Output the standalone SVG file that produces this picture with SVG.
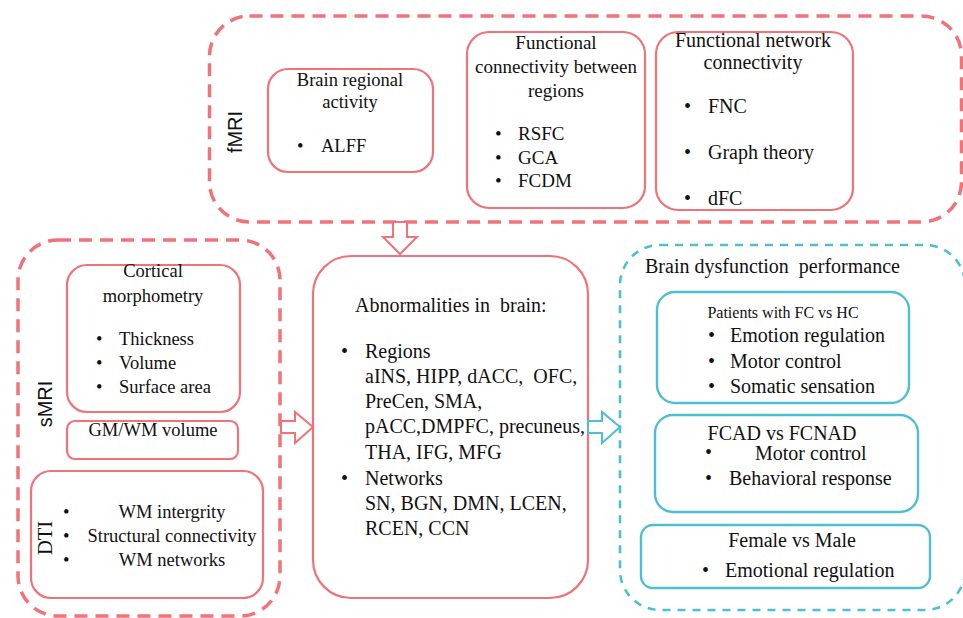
<svg xmlns="http://www.w3.org/2000/svg" width="963" height="618" viewBox="0 0 963 618">
<style>
.red{fill:none;stroke:#EF7378;stroke-width:2.2}
.redd{fill:none;stroke:#EF7378;stroke-width:3.5;stroke-dasharray:13 8}
.cyan{fill:none;stroke:#4DBFD0;stroke-width:2.4}
.cyand{fill:none;stroke:#4DBFD0;stroke-width:2.6;stroke-dasharray:8 7}
.arrR{fill:#fff;stroke:#EF7378;stroke-width:2}
.arrC{fill:#fff;stroke:#4DBFD0;stroke-width:2}
.c{text-anchor:middle}
.f185{font-size:18.5px}
.f19{font-size:19px}
.f20{font-size:20px}
.f16{font-size:16px}
</style>
<rect width="963" height="618" fill="#fff"/>
<g font-family="'Liberation Serif', 'Times New Roman', serif" fill="#111">

<g id="fmri">
<rect class="redd" x="209.5" y="16" width="752" height="206" rx="40"/>
<text font-family="'Liberation Sans', Arial, sans-serif" font-size="20" transform="translate(242,132) rotate(-90)" text-anchor="middle">fMRI</text>
</g>
<g id="brain-regional">
<rect class="red" x="268" y="69" width="165" height="103" rx="20"/>
<text class="c f185" x="350" y="86">Brain regional</text>
<text class="c f185" x="350" y="108">activity</text>
<text class="f185" x="297" y="152">•</text>
<text class="f185" x="321" y="152">ALFF</text>
</g>
<g id="func-conn">
<rect class="red" x="467" y="32" width="178" height="176" rx="22"/>
<text class="c f19" x="556" y="49">Functional</text>
<text class="c f19" x="556" y="73">connectivity between</text>
<text class="c f19" x="556" y="97">regions</text>
<text class="f19" x="495" y="140">•</text><text class="f19" x="518" y="140">RSFC</text>
<text class="f19" x="495" y="164">•</text><text class="f19" x="518" y="164">GCA</text>
<text class="f19" x="495" y="187">•</text><text class="f19" x="518" y="187">FCDM</text>
</g>
<g id="func-net">
<rect class="red" x="656" y="32" width="197" height="178" rx="22"/>
<text class="c f20" x="753" y="47">Functional network</text>
<text class="c f20" x="753" y="69">connectivity</text>
<text class="f20" x="684" y="113">•</text><text class="f20" x="708" y="113">FNC</text>
<text class="f20" x="684" y="159">•</text><text class="f20" x="708" y="159">Graph theory</text>
<text class="f20" x="684" y="205">•</text><text class="f20" x="708" y="205">dFC</text>
</g>

<g id="smri">
<rect class="redd" x="18" y="240" width="262" height="376" rx="40"/>
<text font-family="'Liberation Sans', Arial, sans-serif" font-size="20" transform="translate(52,404) rotate(-90)" text-anchor="middle">sMRI</text>
</g>
<g id="cortical">
<rect class="red" x="67" y="265" width="173" height="147" rx="20"/>
<text class="c f185" x="153" y="277">Cortical</text>
<text class="c f185" x="153" y="302">morphometry</text>
<text class="f185" x="96" y="345">•</text><text class="f185" x="119" y="345">Thickness</text>
<text class="f185" x="96" y="369">•</text><text class="f185" x="119" y="369">Volume</text>
<text class="f185" x="96" y="393">•</text><text class="f185" x="119" y="393">Surface area</text>
</g>
<g id="gmwm">
<rect class="red" x="67" y="421" width="171" height="38" rx="8"/>
<text class="c f185" x="153" y="436">GM/WM volume</text>
</g>
<g id="dti">
<rect class="red" x="31" y="471" width="232" height="127" rx="20"/>
<text font-size="20.5" transform="translate(52,538) rotate(-90)" text-anchor="middle">DTI</text>
<text class="f185" x="63" y="518">•</text><text class="c f185" x="172" y="518">WM intergrity</text>
<text class="f185" x="63" y="542">•</text><text class="c f185" x="172" y="542">Structural connectivity</text>
<text class="f185" x="63" y="566">•</text><text class="c f185" x="172" y="566">WM networks</text>
</g>

<g id="abnormalities">
<rect class="red" x="313" y="256" width="275" height="342" rx="38"/>
<text class="f20" x="355" y="312" xml:space="preserve">Abnormalities in  brain:</text>
<text class="f20" x="341" y="358">•</text><text class="f20" x="365" y="358">Regions</text>
<text class="f20" x="365" y="383" xml:space="preserve">aINS, HIPP, dACC,  OFC,</text>
<text class="f20" x="365" y="408">PreCen, SMA,</text>
<text class="f20" x="365" y="433">pACC,DMPFC, precuneus,</text>
<text class="f20" x="365" y="459">THA, IFG, MFG</text>
<text class="f20" x="341" y="485">•</text><text class="f20" x="365" y="485">Networks</text>
<text class="f20" x="365" y="510">SN, BGN, DMN, LCEN,</text>
<text class="f20" x="365" y="535">RCEN, CCN</text>
</g>

<g id="dysfunction">
<rect class="cyand" x="620" y="245" width="345" height="365" rx="40"/>
<text class="f20" x="645" y="273" xml:space="preserve">Brain dysfunction  performance</text>
</g>
<g id="patients">
<rect class="cyan" x="657" y="292" width="252" height="111" rx="18"/>
<text class="c f16" x="783" y="318">Patients with FC vs HC</text>
<text class="f20" x="708" y="342">•</text><text class="f20" x="730" y="342">Emotion regulation</text>
<text class="f20" x="708" y="368">•</text><text class="f20" x="730" y="368">Motor control</text>
<text class="f20" x="708" y="393">•</text><text class="f20" x="730" y="393">Somatic sensation</text>
</g>
<g id="fcad">
<rect class="cyan" x="655" y="415" width="263" height="97" rx="18"/>
<text class="c f20" x="782" y="440">FCAD vs FCNAD</text>
<text class="f20" x="705" y="459">•</text><text class="f20" x="755" y="460">Motor control</text>
<text class="f20" x="705" y="485">•</text><text class="f20" x="729" y="485">Behavioral response</text>
</g>
<g id="female">
<rect class="cyan" x="641" y="525" width="289" height="63" rx="12"/>
<text class="c f20" x="792" y="547">Female vs Male</text>
<text class="f20" x="702" y="577">•</text><text class="f20" x="725" y="577">Emotional regulation</text>
</g>
</g>

<g id="connectors">
<polygon class="arrR" points="393,222 407,222 407,237 417,237 400,254 383,237 393,237"/>
<polygon class="arrR" points="281,421 295,421 295,412 313,427 295,443 295,433 281,433"/>
<polygon class="arrC" points="588,421 602,421 602,412 620,427 602,443 602,433 588,433"/>
</g>
</svg>
